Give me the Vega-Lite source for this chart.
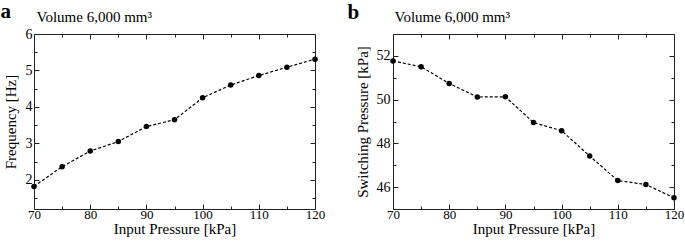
{
  "$schema": "https://vega.github.io/schema/vega-lite/v6.json",
  "padding": {"left": 0, "top": 0, "right": 1, "bottom": 2},
  "spacing": 22,
  "config": {
    "view": {"stroke": null},
    "axis": {
      "grid": false,
      "labelFont": "Liberation Serif",
      "titleFont": "Liberation Serif",
      "labelColor": "black",
      "titleColor": "black",
      "tickColor": "#222",
      "domainColor": "#222",
      "labelFontSize": 14,
      "titleFontSize": 15,
      "titleFontWeight": "normal",
      "labelFlush": false,
      "labelOverlap": false
    }
  },
  "datasets": {
    "a": [
      {"p": 70, "v": 1.82}, {"p": 75, "v": 2.36}, {"p": 80, "v": 2.79}, {"p": 85, "v": 3.05},
      {"p": 90, "v": 3.46}, {"p": 95, "v": 3.65}, {"p": 100, "v": 4.25}, {"p": 105, "v": 4.60},
      {"p": 110, "v": 4.86}, {"p": 115, "v": 5.09}, {"p": 120, "v": 5.31}
    ],
    "b": [
      {"p": 70, "v": 51.77}, {"p": 75, "v": 51.5}, {"p": 80, "v": 50.74}, {"p": 85, "v": 50.12},
      {"p": 90, "v": 50.13}, {"p": 95, "v": 48.95}, {"p": 100, "v": 48.58}, {"p": 105, "v": 47.42},
      {"p": 110, "v": 46.3}, {"p": 115, "v": 46.12}, {"p": 120, "v": 45.51}
    ]
  },
  "hconcat": [
    {
      "width": 281, "height": 175,
      "data": {"name": "a"},
      "layer": [
        {"mark": {"type": "line", "color": "black", "strokeDash": [3, 2], "strokeWidth": 1.2},
         "encoding": {
           "x": {"field": "p", "type": "quantitative", "scale": {"domain": [70, 120], "nice": false, "zero": false},
                 "axis": {"orient": "bottom", "values": [70, 80, 90, 100, 110, 120], "tickSize": -5, "labelPadding": 4, "labelFontSize": 13, "title": "Input Pressure [kPa]", "titlePadding": 0}},
           "y": {"field": "v", "type": "quantitative", "scale": {"domain": [1.2, 6], "nice": false, "zero": false},
                 "axis": {"orient": "left", "values": [2, 3, 4, 5, 6], "tickSize": -5, "labelPadding": 7, "title": "Frequency [Hz]", "titlePadding": 7}}
         }},
        {"mark": {"type": "point", "filled": true, "color": "black", "size": 30, "opacity": 1},
         "encoding": {
           "x": {"field": "p", "type": "quantitative", "axis": {"orient": "bottom", "values": [75, 85, 95, 105, 115], "tickSize": -3, "labels": false, "domain": false, "title": null}},
           "y": {"field": "v", "type": "quantitative", "axis": {"orient": "left", "values": [1.5, 2.5, 3.5, 4.5, 5.5], "tickSize": -3, "labels": false, "domain": false, "title": null}}
         }},
        {"mark": {"type": "point", "opacity": 0},
         "encoding": {
           "x": {"field": "p", "type": "quantitative", "axis": {"orient": "top", "values": [70, 80, 90, 100, 110, 120], "tickSize": -5, "labels": false, "title": "Volume 6,000 mm³", "titleX": 2, "titleY": -13, "titleAlign": "left", "titleBaseline": "alphabetic", "titleFontSize": 15}},
           "y": {"field": "v", "type": "quantitative", "axis": {"orient": "right", "values": [2, 3, 4, 5, 6], "tickSize": -5, "labels": false, "title": null}}
         }},
        {"mark": {"type": "point", "opacity": 0},
         "encoding": {
           "x": {"field": "p", "type": "quantitative", "axis": {"orient": "top", "values": [75, 85, 95, 105, 115], "tickSize": -3, "labels": false, "domain": false, "title": "a", "titleX": -34, "titleY": -17, "titleAlign": "left", "titleBaseline": "alphabetic", "titleFontSize": 21, "titleFontWeight": "bold"}},
           "y": {"field": "v", "type": "quantitative", "axis": {"orient": "right", "values": [1.5, 2.5, 3.5, 4.5, 5.5], "tickSize": -3, "labels": false, "domain": false, "title": null}}
         }}
      ],
      "resolve": {"axis": {"x": "independent", "y": "independent"}}
    },
    {
      "width": 281, "height": 175,
      "data": {"name": "b"},
      "layer": [
        {"mark": {"type": "line", "color": "black", "strokeDash": [3, 2], "strokeWidth": 1.2},
         "encoding": {
           "x": {"field": "p", "type": "quantitative", "scale": {"domain": [70, 120], "nice": false, "zero": false},
                 "axis": {"orient": "bottom", "values": [70, 80, 90, 100, 110, 120], "tickSize": -5, "labelPadding": 4, "labelFontSize": 13, "title": "Input Pressure [kPa]", "titlePadding": 0}},
           "y": {"field": "v", "type": "quantitative", "scale": {"domain": [45, 53], "nice": false, "zero": false},
                 "axis": {"orient": "left", "values": [46, 48, 50, 52], "tickSize": -5, "labelPadding": 8, "title": "Switching Pressure [kPa]", "titlePadding": 6}}
         }},
        {"mark": {"type": "point", "filled": true, "color": "black", "size": 30, "opacity": 1},
         "encoding": {
           "x": {"field": "p", "type": "quantitative", "axis": {"orient": "bottom", "values": [75, 85, 95, 105, 115], "tickSize": -3, "labels": false, "domain": false, "title": null}},
           "y": {"field": "v", "type": "quantitative", "axis": {"orient": "left", "values": [47, 49, 51], "tickSize": -3, "labels": false, "domain": false, "title": null}}
         }},
        {"mark": {"type": "point", "opacity": 0},
         "encoding": {
           "x": {"field": "p", "type": "quantitative", "axis": {"orient": "top", "values": [70, 80, 90, 100, 110, 120], "tickSize": -5, "labels": false, "title": "Volume 6,000 mm³", "titleX": 1, "titleY": -13, "titleAlign": "left", "titleBaseline": "alphabetic", "titleFontSize": 15}},
           "y": {"field": "v", "type": "quantitative", "axis": {"orient": "right", "values": [46, 48, 50, 52], "tickSize": -5, "labels": false, "title": null}}
         }},
        {"mark": {"type": "point", "opacity": 0},
         "encoding": {
           "x": {"field": "p", "type": "quantitative", "axis": {"orient": "top", "values": [75, 85, 95, 105, 115], "tickSize": -3, "labels": false, "domain": false, "title": "b", "titleX": -46, "titleY": -16, "titleAlign": "left", "titleBaseline": "alphabetic", "titleFontSize": 21, "titleFontWeight": "bold"}},
           "y": {"field": "v", "type": "quantitative", "axis": {"orient": "right", "values": [47, 49, 51], "tickSize": -3, "labels": false, "domain": false, "title": null}}
         }}
      ],
      "resolve": {"axis": {"x": "independent", "y": "independent"}}
    }
  ]
}
